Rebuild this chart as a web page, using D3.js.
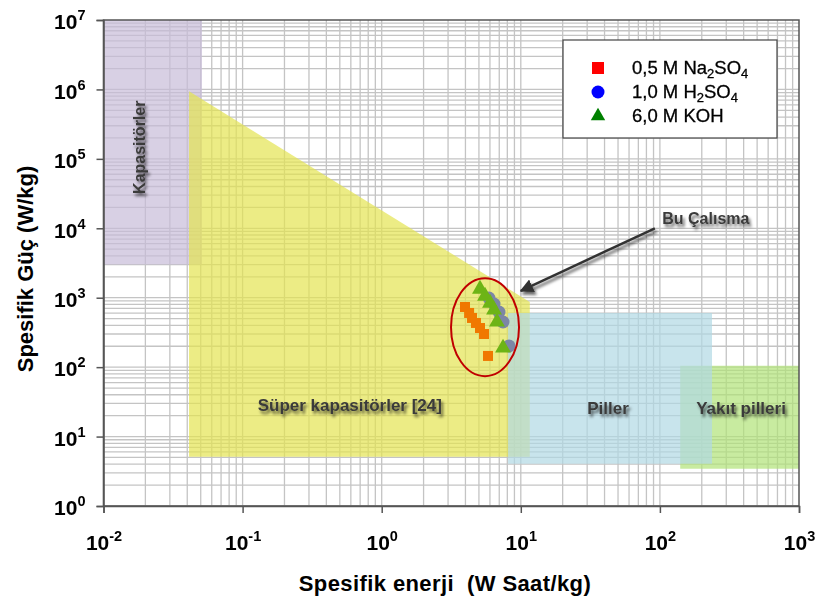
<!DOCTYPE html>
<html>
<head>
<meta charset="utf-8">
<script src="https://cdn.jsdelivr.net/npm/d3@7/dist/d3.min.js"></script>
<style>
  html, body { margin: 0; padding: 0; background: #fff; }
  svg { display: block; font-family: "Liberation Sans", Arial, sans-serif; }
</style>
</head>
<body>
<svg id="chart" width="817" height="599"></svg>
<script>
// Ragone plot: specific power vs specific energy

// Axis decades (powers of ten)
const xDecades = [-2, -1, 0, 1, 2, 3];
const yDecades = [0, 1, 2, 3, 4, 5, 6, 7];

// Device-class regions, in data units (W h/kg, W/kg)
const regionNames = ["Kapasitörler", "Süper kapasitörler [24]", "Yakıt pilleri", "Piller"];
const regionPolys = [
  [[0.01, 1e7], [0.051, 1e7], [0.051, 3000], [0.01, 3000]],
  [[0.0412, 9.4e5], [11.6, 870], [11.6, 5.1], [0.0412, 5.1]],
  [[140, 105], [1000, 105], [1000, 3.43], [140, 3.43]],
  [[8.1, 600], [237, 600], [237, 4.05], [8.1, 4.05]]
];
const regionColors = ["#c7bcd9", "#e4e451", "#b0e277", "#b0d8e4"];
// Label anchor of each region (data units)
const regionLabelPos = [[0.018, 1.47e5], [0.59, 27.7], [383, 25], [42.4, 25]];

// Measured points for the three electrolytes
const naEnergy = [3.97, 4.25, 4.46, 4.76, 5.09, 5.44, 5.81];
const naPower  = [735, 603, 511, 433, 366, 300, 145];
const hEnergy  = [5.90, 6.42, 6.97, 7.45, 8.22];
const hPower   = [990, 812, 622, 447, 202];
const kohEnergy = [5.09, 5.53, 6.01, 6.42, 6.74, 7.45];
const kohPower  = [1334, 1057, 838, 665, 447, 189];

const legendLabels = [
  ["0,5 M Na", "2", "SO", "4"],
  ["1,0 M H", "2", "SO", "4"],
  ["6,0 M KOH"]
];

// Annotation "Bu Çalısma": arrow tail/head and ellipse centre (data units)
const noteText = "Bu Çalısma";
const noteTextPos = [104, 14000];
const arrowFrom = [92, 1.0e4];
const arrowTo = [10.0, 1250];
const ellipseCenter = [5.53, 377];

const svg = d3.select("#chart");
const margin = { left: 103.5, right: 18, top: 20, bottom: 93 };
const W = 817, H = 599;

const x = d3.scaleLog().domain([1e-2, 1e3]).range([margin.left, W - margin.right]);
const y = d3.scaleLog().domain([1, 1e7]).range([H - margin.bottom, margin.top]);

const defs = svg.append("defs");
const sh = defs.append("filter").attr("id", "shadow")
  .attr("x", "-20%").attr("y", "-40%").attr("width", "140%").attr("height", "200%");
sh.append("feDropShadow").attr("dx", 2).attr("dy", 3).attr("stdDeviation", 1.8)
  .attr("flood-color", "#000").attr("flood-opacity", 0.6);
const soft = defs.append("filter").attr("id", "soft");
soft.append("feGaussianBlur").attr("stdDeviation", 0.35);

defs.append("marker").attr("id", "arrowhead")
  .attr("viewBox", "0 0 10 10").attr("refX", 9).attr("refY", 5)
  .attr("markerWidth", 5.5).attr("markerHeight", 5.5).attr("orient", "auto")
  .append("path").attr("d", "M0,0 L10,5 L0,10 Z").attr("fill", "#333");

// Log grid: 1..9 times each decade
const xGrid = [], yGrid = [];
xDecades.slice(0, -1).forEach(d => { for (let k = 1; k <= 9; k++) xGrid.push(k * Math.pow(10, d)); });
yDecades.slice(0, -1).forEach(d => { for (let k = 1; k <= 9; k++) yGrid.push(k * Math.pow(10, d)); });

const grid = svg.append("g").attr("stroke", "#c4c4c4").attr("stroke-width", 1.3);
grid.selectAll(".gx").data(xGrid).join("line")
  .attr("x1", d => x(d)).attr("x2", d => x(d))
  .attr("y1", y.range()[0]).attr("y2", y.range()[1]);
grid.selectAll(".gy").data(yGrid).join("line")
  .attr("y1", d => y(d)).attr("y2", d => y(d))
  .attr("x1", x.range()[0]).attr("x2", x.range()[1]);

// Regions
const line = d3.line().x(d => x(d[0])).y(d => y(d[1]));
svg.append("g").selectAll("path").data(regionPolys).join("path")
  .attr("d", d => line(d) + "Z")
  .attr("fill", (d, i) => regionColors[i])
  .attr("fill-opacity", 0.7);

// Region labels
const lab = svg.append("g").attr("font-weight", "bold").attr("font-size", 17)
  .attr("fill", "#3a3a3a").attr("filter", "url(#shadow)");
regionNames.forEach((name, i) => {
  const [px, py] = [x(regionLabelPos[i][0]), y(regionLabelPos[i][1])];
  const t = lab.append("text").attr("text-anchor", "middle").attr("dominant-baseline", "central")
    .text(name);
  if (i === 0) t.attr("transform", `translate(${px},${py}) rotate(-90)`).attr("font-size", 16);
  else t.attr("x", px).attr("y", py);
});

// Frame
svg.append("rect")
  .attr("x", x.range()[0]).attr("y", y.range()[1])
  .attr("width", x.range()[1] - x.range()[0]).attr("height", y.range()[0] - y.range()[1])
  .attr("fill", "none").attr("stroke", "#555").attr("stroke-width", 1.5);

// Axes
const sup = (sel, e) => {
  sel.text(null);
  sel.append("tspan").text("10");
  sel.append("tspan").attr("dy", -9).attr("font-size", 14.5).text(e);
};
const xAxis = svg.append("g").attr("transform", `translate(0,${y.range()[0]})`)
  .call(d3.axisBottom(x).tickValues(xDecades.map(d => Math.pow(10, d))).tickSize(7).tickPadding(12).tickFormat(""));
xAxis.select(".domain").attr("stroke", "#555").attr("stroke-width", 1.5);
xAxis.selectAll(".tick line").attr("stroke", "#555").attr("stroke-width", 1.5);
xAxis.selectAll(".tick text").attr("font-size", 21).attr("font-weight", "bold").attr("fill", "#000")
  .attr("font-family", "Liberation Sans, Arial, sans-serif")
  .attr("dy", "1.2em")
  .each(function (d) { sup(d3.select(this), String(Math.round(Math.log10(d)))); });

const yAxis = svg.append("g").attr("transform", `translate(${x.range()[0]},0)`)
  .call(d3.axisLeft(y).tickValues(yDecades.map(d => Math.pow(10, d))).tickSize(7).tickPadding(11).tickFormat(""));
yAxis.select(".domain").attr("stroke", "#555").attr("stroke-width", 1.5);
yAxis.selectAll(".tick line").attr("stroke", "#555").attr("stroke-width", 1.5);
yAxis.selectAll(".tick text").attr("font-size", 21).attr("font-weight", "bold").attr("fill", "#000")
  .attr("font-family", "Liberation Sans, Arial, sans-serif")
  .attr("dy", "0.42em")
  .each(function (d) { sup(d3.select(this), String(Math.round(Math.log10(d)))); });

// Axis titles
svg.append("text").attr("x", 445).attr("y", 591).attr("text-anchor", "middle")
  .attr("font-size", 22).attr("font-weight", "bold").attr("fill", "#000")
  .attr("xml:space", "preserve").attr("letter-spacing", 0.4)
  .text("Spesifik enerji  (W Saat/kg)");
svg.append("text").attr("transform", "translate(33,269) rotate(-90)").attr("text-anchor", "middle")
  .attr("font-size", 22).attr("font-weight", "bold").attr("fill", "#000")
  .text("Spesifik Güç (W/kg)");

// Annotation: arrow, label, ellipse
svg.append("line")
  .attr("x1", x(arrowFrom[0])).attr("y1", y(arrowFrom[1]))
  .attr("x2", x(arrowTo[0])).attr("y2", y(arrowTo[1]))
  .attr("stroke", "#333").attr("stroke-width", 2.5)
  .attr("marker-end", "url(#arrowhead)").attr("filter", "url(#shadow)");
svg.append("text").attr("x", x(noteTextPos[0])).attr("y", y(noteTextPos[1]))
  .attr("dominant-baseline", "central")
  .attr("font-size", 16).attr("font-weight", "bold").attr("fill", "#3a3a3a")
  .attr("filter", "url(#shadow)").text(noteText);

// Data points
const pts = svg.append("g").attr("filter", "url(#soft)");
pts.selectAll(".sq").data(d3.zip(naEnergy, naPower)).join("rect")
  .attr("x", d => x(d[0]) - 5).attr("y", d => y(d[1]) - 5)
  .attr("width", 10).attr("height", 10).attr("fill", "#f07800");
pts.selectAll(".ci").data(d3.zip(hEnergy, hPower)).join("circle")
  .attr("cx", d => x(d[0])).attr("cy", d => y(d[1])).attr("r", 6.5)
  .attr("fill", "#7b86a6");
const tri = d3.symbol().type(d3.symbolTriangle).size(110);
pts.selectAll(".tr").data(d3.zip(kohEnergy, kohPower)).join("path")
  .attr("transform", d => `translate(${x(d[0])},${y(d[1])})`)
  .attr("d", tri).attr("fill", "#6db414");

svg.append("ellipse")
  .attr("cx", x(ellipseCenter[0])).attr("cy", y(ellipseCenter[1]))
  .attr("rx", 34).attr("ry", 49)
  .attr("fill", "none").attr("stroke", "#c00000").attr("stroke-width", 2);

// Legend
const lg = svg.append("g").attr("transform", "translate(563,40)");
lg.append("rect").attr("width", 214).attr("height", 98)
  .attr("fill", "#fff").attr("stroke", "#444").attr("stroke-width", 1.2);
const rows = [28, 52, 76];
lg.append("rect").attr("x", 29).attr("y", rows[0] - 6).attr("width", 12).attr("height", 12).attr("fill", "#ff0000");
lg.append("circle").attr("cx", 35).attr("cy", rows[1]).attr("r", 6.5).attr("fill", "#0000ff");
lg.append("path").attr("transform", `translate(35,${rows[2]})`)
  .attr("d", d3.symbol().type(d3.symbolTriangle).size(90)).attr("fill", "#008000");
legendLabels.forEach((parts, i) => {
  const t = lg.append("text").attr("x", 69).attr("y", rows[i] + 6)
    .attr("font-size", 18.5).attr("fill", "#000").attr("stroke", "#000").attr("stroke-width", 0.3);
  parts.forEach((p, j) => {
    const ts = t.append("tspan").text(p);
    if (j % 2 === 1) ts.attr("font-size", 13).attr("dy", 4);
    else if (j > 0) ts.attr("dy", -4);
  });
});
</script>
</body>
</html>
